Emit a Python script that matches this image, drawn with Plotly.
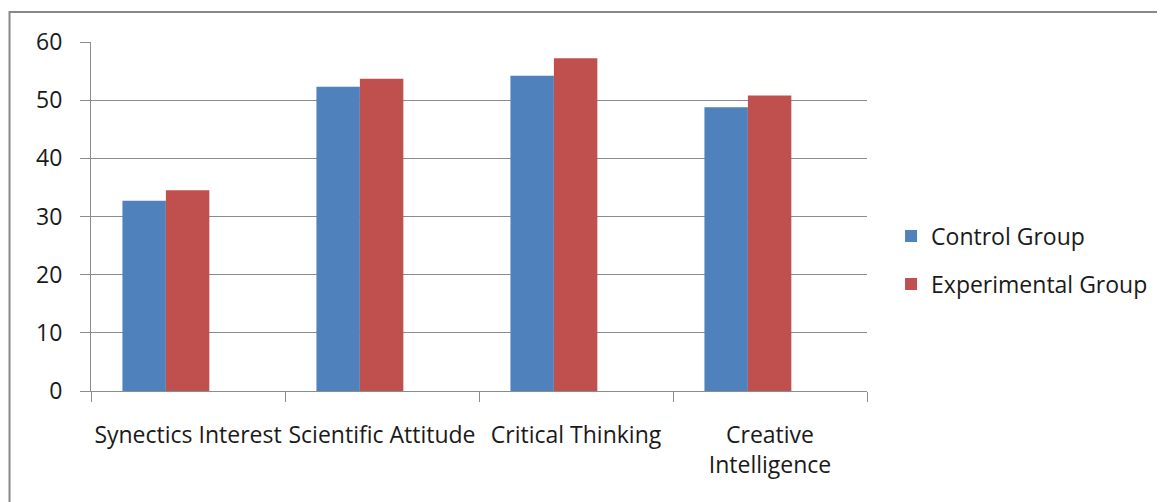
import plotly.graph_objects as go

categories = ["Synectics Interest", "Scientific Attitude", "Critical Thinking", "Creative<br>Intelligence"]
control_group = [32.7, 52.3, 54.2, 48.8]
experimental_group = [34.5, 53.7, 57.2, 50.8]
y_ticks = [0, 10, 20, 30, 40, 50, 60]

BLUE = "#4F81BD"
RED = "#C0504D"
GRID = "#8C8C8C"
FONT = dict(family="Open Sans, Noto Sans, sans-serif", size=23, color="#1a1a1a")

fig = go.Figure()
fig.add_trace(go.Bar(
    x=categories, y=control_group, name="Control Group",
    marker=dict(color=BLUE, line=dict(width=0)),
    width=0.224, offset=-0.338, legendgroup="a",
))
fig.add_trace(go.Bar(
    x=categories, y=experimental_group, name="Experimental Group",
    marker=dict(color=RED, line=dict(width=0)),
    width=0.224, offset=-0.114, legendgroup="b",
))

fig.update_layout(
    width=1157, height=494,
    margin=dict(l=83, r=292, t=34, b=111),
    paper_bgcolor="white", plot_bgcolor="white",
    font=FONT,
    barmode="overlay",
    showlegend=True,
    legend=dict(x=1.031, y=0.375, xanchor="left", yanchor="middle",
                font=FONT, tracegroupgap=15, itemwidth=30,
                bgcolor="rgba(0,0,0,0)"),
    xaxis=dict(
        type="category", tickson="boundaries", ticks="outside", ticklen=10,
        tickcolor=GRID, showline=True, linecolor=GRID, linewidth=1,
        showgrid=False, tickfont=FONT, range=[-0.5, 3.5],
        ticklabelstandoff=23, tickangle=0, automargin=False,
    ),
    yaxis=dict(
        range=[0, 60], tickvals=y_ticks, ticks="outside", ticklen=10,
        tickcolor=GRID, showline=True, linecolor=GRID, linewidth=1,
        showgrid=True, gridcolor=GRID, gridwidth=1, zeroline=False,
        tickfont=FONT, ticklabelstandoff=13, automargin=False,
    ),
    shapes=[dict(
        type="rect", xref="paper", yref="paper",
        x0=-0.105, x1=1.40, y0=-0.40, y1=1.086,
        line=dict(color="#888888", width=2), fillcolor="rgba(0,0,0,0)",
        layer="below",
    )],
)

fig.write_html("out.html")
